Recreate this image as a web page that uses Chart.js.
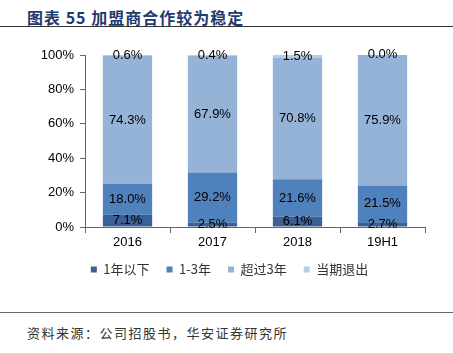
<!DOCTYPE html>
<html>
<head>
<meta charset="utf-8">
<script src="https://cdn.jsdelivr.net/npm/chart.js@4"></script>
<style>
  body { margin: 0; width: 453px; height: 353px; background: #fff; position: relative; overflow: hidden; }
  #title { position: absolute; left: 27px; top: 5px; font: bold 16px "Noto Sans CJK SC", sans-serif; color: #1F3B70; letter-spacing: 1px; }
  #topline { position: absolute; left: 0; top: 26px; width: 453px; height: 1px; background: #333; }
  #wrap { position: absolute; left: 0; top: 30px; width: 453px; height: 262px; }
  #botline { position: absolute; left: 0; top: 312px; width: 453px; height: 1px; background: #666; }
  #source { position: absolute; left: 27px; top: 323px; font: 13px "Noto Sans CJK SC", sans-serif; color: #333; letter-spacing: 1.5px; }
</style>
</head>
<body>
<div id="title">图表 55 加盟商合作较为稳定</div>
<div id="topline"></div>
<div id="wrap"><canvas id="chart"></canvas></div>
<div id="botline"></div>
<div id="source">资料来源：公司招股书，华安证券研究所</div>
<script>
// --- Data ---
const categories = ['2016', '2017', '2018', '19H1'];
const underOneYear = [7.1, 2.5, 6.1, 2.7];
const oneToThree = [18.0, 29.2, 21.6, 21.5];
const overThree = [74.3, 67.9, 70.8, 75.9];
const exited = [0.6, 0.4, 1.5, 0.0];
const yTicks = [0, 20, 40, 60, 80, 100];

// draws the value in the middle of each segment
const segmentLabels = {
  id: 'segmentLabels',
  afterDatasetsDraw(chart) {
    const ctx = chart.ctx;
    ctx.save();
    ctx.font = '13px "Liberation Sans", Arial, sans-serif';
    ctx.fillStyle = '#000';
    ctx.textAlign = 'center';
    ctx.textBaseline = 'middle';
    chart.data.datasets.forEach((ds, i) => {
      chart.getDatasetMeta(i).data.forEach((bar, j) => {
        const y = (bar.y + bar.base) / 2;
        ctx.fillText(ds.data[j].toFixed(1) + '%', bar.x, y);
      });
    });
    ctx.restore();
  }
};

// legend sits a bit right of centre and tighter under the axis in the original
const legendShift = {
  id: 'legendShift',
  afterLayout(chart) {
    const lg = chart.legend;
    if (lg) {
      lg.left += 17;
      lg.right += 17;
      lg.top -= 6;
      lg.bottom -= 6;
    }
  }
};

const axisFont = { family: '"Liberation Sans", Arial, sans-serif', size: 13 };

new Chart(document.getElementById('chart'), {
  type: 'bar',
  data: {
    labels: categories,
    datasets: [
      { label: '1年以下', data: underOneYear, backgroundColor: '#3A6096' },
      { label: '1-3年', data: oneToThree, backgroundColor: '#4F81BD' },
      { label: '超过3年', data: overThree, backgroundColor: '#95B3D7' },
      { label: '当期退出', data: exited, backgroundColor: '#B9CDE5' }
    ]
  },
  options: {
    responsive: true,
    maintainAspectRatio: false,
    animation: false,
    layout: { padding: { top: 25, right: 28, left: 0, bottom: 0 } },
    datasets: { bar: { categoryPercentage: 0.58, barPercentage: 1 } },
    scales: {
      x: {
        stacked: true,
        afterFit: s => { s.height = 25; },
        grid: { drawOnChartArea: false, tickLength: 6, color: '#666' },
        border: { color: '#666' },
        ticks: { color: '#000', font: axisFont, padding: 2 }
      },
      y: {
        stacked: true,
        min: 0,
        max: 100,
        afterFit: s => { s.width = 85; },
        afterBuildTicks: s => { s.ticks = yTicks.map(v => ({ value: v })); },
        grid: { drawOnChartArea: false, tickLength: 5, color: '#666' },
        border: { color: '#666' },
        ticks: { color: '#000', font: axisFont, padding: 6, callback: v => v + '%' }
      }
    },
    plugins: {
      legend: {
        position: 'bottom',
        labels: {
          boxWidth: 6,
          boxHeight: 6,
          padding: 17,
          color: '#333',
          font: { family: '"Noto Sans CJK SC", sans-serif', size: 13 }
        }
      },
      tooltip: { enabled: false }
    }
  },
  plugins: [segmentLabels, legendShift]
});
</script>
</body>
</html>
